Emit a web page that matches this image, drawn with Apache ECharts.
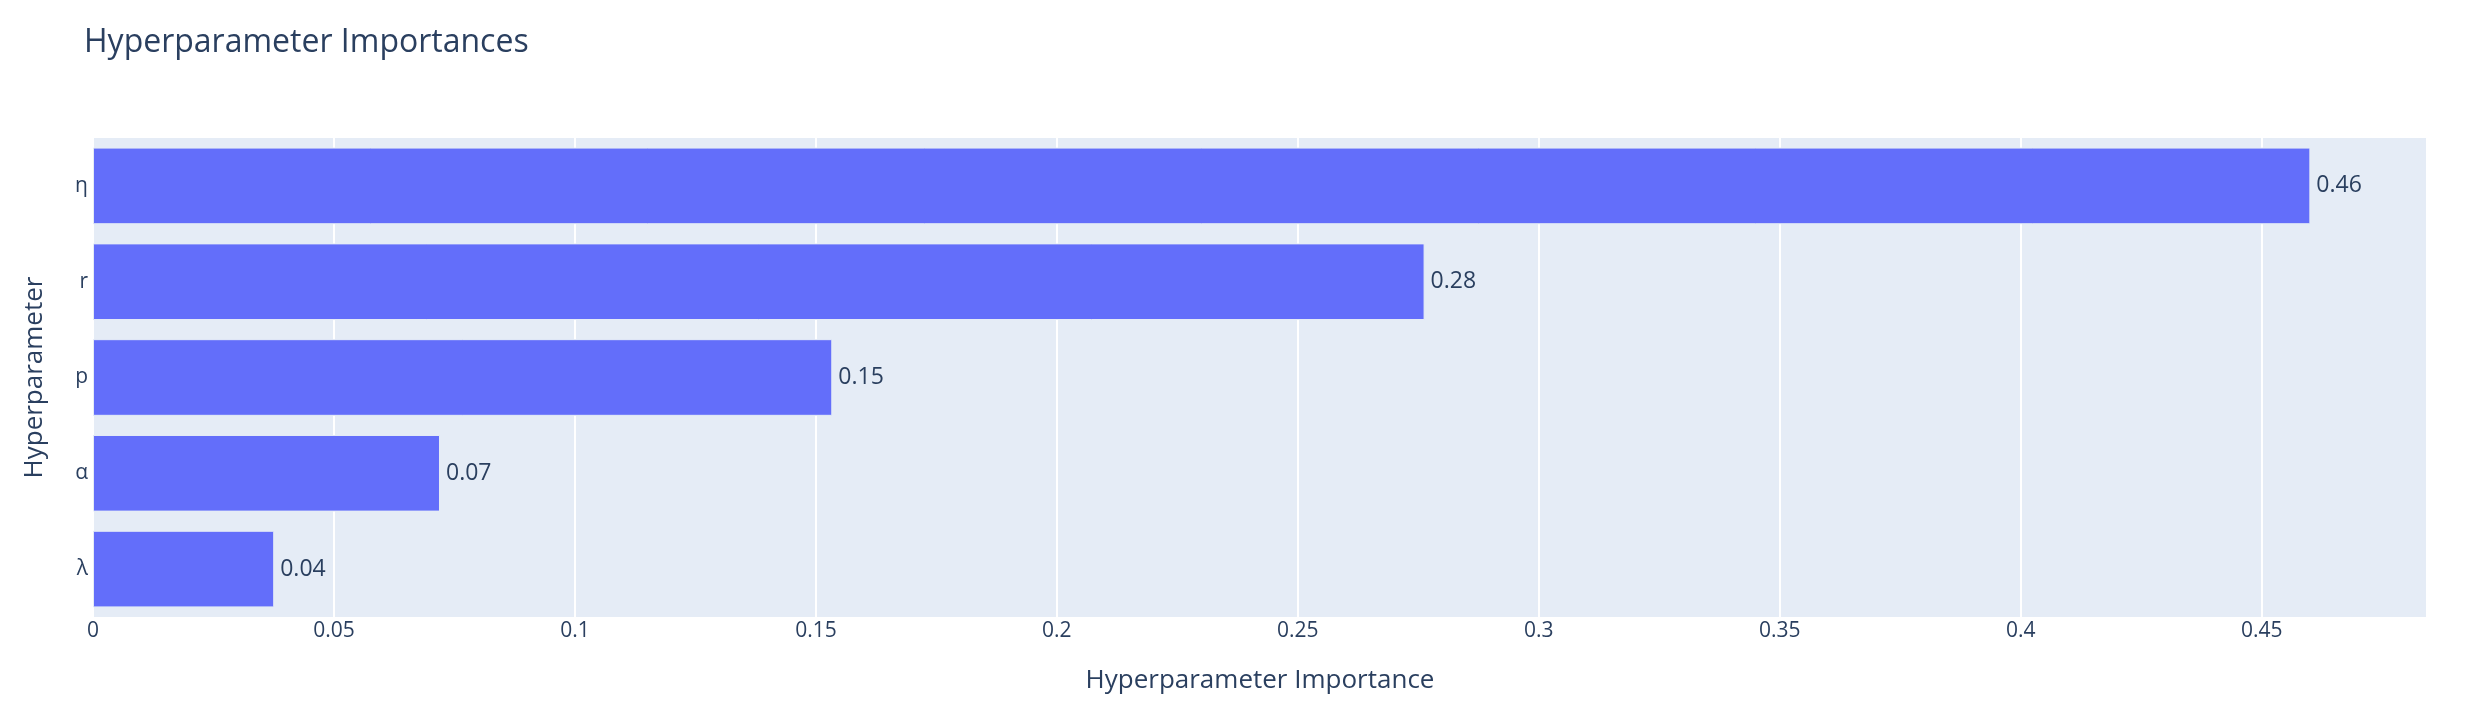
<!DOCTYPE html>
<html>
<head>
<meta charset="utf-8">
<script src="https://cdn.jsdelivr.net/npm/echarts@6/dist/echarts.min.js"></script>
<style>html,body{margin:0;padding:0;background:#fff;}#c{width:2466px;height:719px;}</style>
</head>
<body>
<div id="c"></div>
<script>
// bottom to top
const categories = ['λ', 'α', 'p', 'r', 'η'];
const importances = [0.0376, 0.0720, 0.1534, 0.2763, 0.4601];
const xTickInterval = 0.05;
const xMax = 0.4843;

const textColor = '#2a3f5f';
const font = '"Open Sans", Verdana, Arial, sans-serif';
const chart = echarts.init(document.getElementById('c'));
chart.setOption({
  animation: false,
  backgroundColor: '#ffffff',
  textStyle: { fontFamily: font, color: textColor },
  title: {
    text: 'Hyperparameter Importances',
    left: 79, top: 22,
    textStyle: { fontFamily: font, fontSize: 32, fontWeight: 'normal', color: textColor }
  },
  grid: {
    left: 93, right: 39, top: 138, bottom: 102,
    show: true, backgroundColor: '#e5ecf6', borderWidth: 0
  },
  xAxis: {
    type: 'value', min: 0, max: xMax, interval: xTickInterval,
    name: 'Hyperparameter Importance', nameLocation: 'middle', nameGap: 51,
    nameTextStyle: { fontFamily: font, fontSize: 26, color: textColor },
    axisLine: { show: false }, axisTick: { show: false },
    axisLabel: { fontFamily: font, fontSize: 21, color: textColor, margin: 4, showMaxLabel: false },
    splitLine: { show: true, lineStyle: { color: '#ffffff', width: 2 } }
  },
  yAxis: {
    type: 'category', data: categories,
    name: 'Hyperparameter', nameLocation: 'middle', nameGap: 45,
    nameTextStyle: { fontFamily: font, fontSize: 26, color: textColor },
    axisLine: { show: false }, axisTick: { show: false },
    axisLabel: { fontFamily: font, fontSize: 21, color: textColor, margin: 5 },
    splitLine: { show: false }
  },
  series: [{
    type: 'bar', data: importances, barCategoryGap: '20%',
    itemStyle: { color: '#636efa', borderColor: '#e5ecf6', borderWidth: 1 },
    label: {
      show: true, position: 'right', distance: 6,
      fontFamily: font, fontSize: 23, color: textColor,
      formatter: p => p.value.toFixed(2)
    }
  }]
});
</script>
</body>
</html>
